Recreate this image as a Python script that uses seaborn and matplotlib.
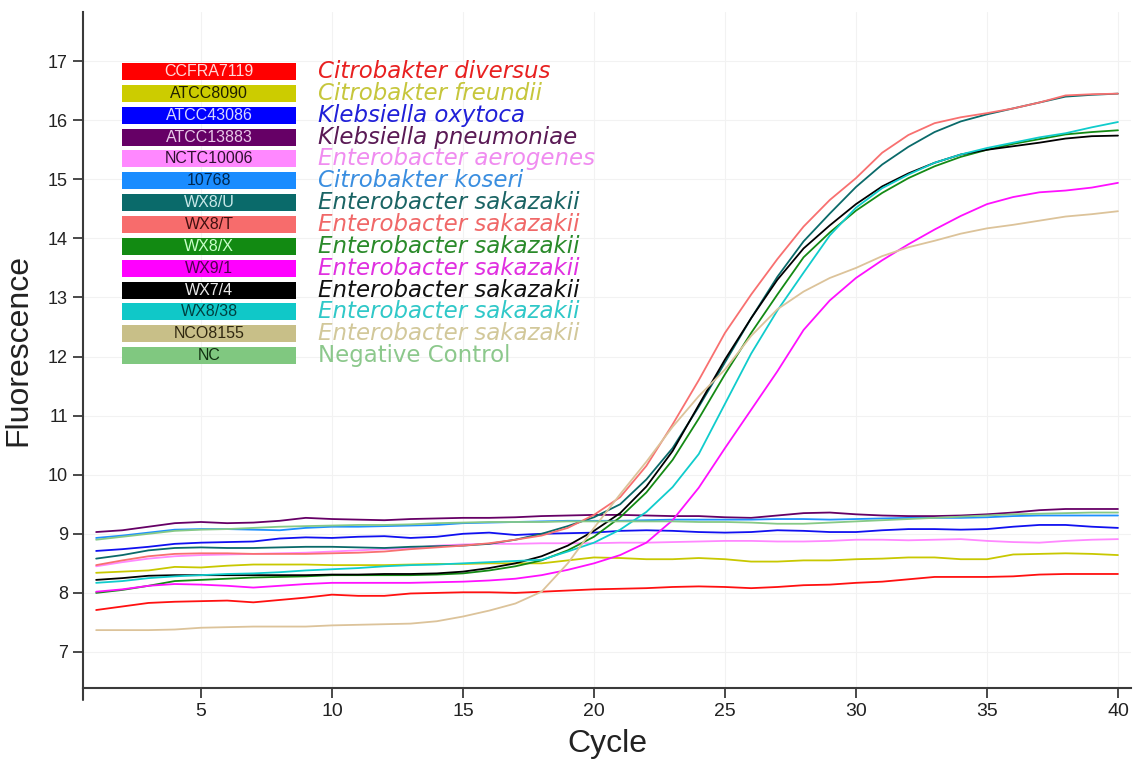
import numpy as np
import pandas as pd
import matplotlib
matplotlib.use("Agg")
import matplotlib.pyplot as plt
import seaborn as sns
from matplotlib.patches import Rectangle
from matplotlib.lines import Line2D
from matplotlib import font_manager as fm

# ---------------- data ----------------
cycles = list(range(1, 41))

codes = ["CCFRA7119", "ATCC8090", "ATCC43086", "ATCC13883", "NCTC10006", "10768",
         "WX8/U", "WX8/T", "WX8/X", "WX9/1", "WX7/4", "WX8/38", "NCO8155", "NC"]
species = ["Citrobakter diversus", "Citrobakter freundii", "Klebsiella oxytoca",
           "Klebsiella pneumoniae", "Enterobacter aerogenes", "Citrobakter koseri",
           "Enterobacter sakazakii", "Enterobacter sakazakii", "Enterobacter sakazakii",
           "Enterobacter sakazakii", "Enterobacter sakazakii", "Enterobacter sakazakii",
           "Enterobacter sakazakii", "Negative Control"]

ccfra7119 = [7.71, 7.77, 7.83, 7.85, 7.86, 7.87, 7.84, 7.88, 7.92, 7.97, 7.95, 7.95, 7.99, 8.00, 8.01, 8.01, 8.00, 8.02, 8.04, 8.06,
             8.07, 8.08, 8.10, 8.11, 8.10, 8.08, 8.10, 8.13, 8.14, 8.17, 8.19, 8.23, 8.27, 8.27, 8.27, 8.28, 8.31, 8.32, 8.32, 8.32]
atcc8090 = [8.34, 8.36, 8.38, 8.44, 8.43, 8.46, 8.48, 8.48, 8.48, 8.47, 8.47, 8.47, 8.48, 8.49, 8.49, 8.50, 8.50, 8.50, 8.55, 8.60,
            8.59, 8.57, 8.57, 8.59, 8.57, 8.53, 8.53, 8.55, 8.55, 8.57, 8.58, 8.60, 8.60, 8.57, 8.57, 8.65, 8.66, 8.67, 8.66, 8.64]
atcc43086 = [8.71, 8.74, 8.78, 8.83, 8.85, 8.86, 8.87, 8.92, 8.94, 8.93, 8.95, 8.96, 8.93, 8.95, 9.00, 9.02, 8.98, 9.00, 9.01, 9.02,
             9.05, 9.06, 9.05, 9.03, 9.02, 9.03, 9.06, 9.05, 9.03, 9.03, 9.06, 9.08, 9.08, 9.07, 9.08, 9.12, 9.15, 9.15, 9.12, 9.10]
atcc13883 = [9.03, 9.06, 9.12, 9.18, 9.20, 9.18, 9.19, 9.22, 9.27, 9.25, 9.24, 9.23, 9.25, 9.26, 9.27, 9.27, 9.28, 9.30, 9.31, 9.32,
             9.32, 9.31, 9.30, 9.30, 9.28, 9.27, 9.31, 9.35, 9.36, 9.33, 9.31, 9.30, 9.30, 9.31, 9.33, 9.36, 9.40, 9.42, 9.42, 9.42]
nctc10006 = [8.45, 8.52, 8.58, 8.62, 8.64, 8.65, 8.66, 8.67, 8.68, 8.70, 8.72, 8.74, 8.76, 8.80, 8.82, 8.83, 8.83, 8.84, 8.84, 8.84,
             8.85, 8.85, 8.86, 8.87, 8.88, 8.88, 8.87, 8.87, 8.88, 8.90, 8.90, 8.89, 8.90, 8.91, 8.88, 8.86, 8.85, 8.88, 8.90, 8.91]
s10768 = [8.93, 8.97, 9.02, 9.07, 9.08, 9.08, 9.07, 9.06, 9.10, 9.12, 9.12, 9.13, 9.14, 9.15, 9.18, 9.19, 9.20, 9.21, 9.22, 9.22,
          9.22, 9.23, 9.24, 9.24, 9.24, 9.24, 9.25, 9.25, 9.24, 9.25, 9.26, 9.27, 9.27, 9.27, 9.28, 9.30, 9.31, 9.31, 9.31, 9.31]
wx8_u = [8.58, 8.64, 8.72, 8.76, 8.77, 8.76, 8.76, 8.77, 8.78, 8.78, 8.77, 8.76, 8.78, 8.79, 8.80, 8.83, 8.90, 9.00, 9.13, 9.28,
         9.50, 9.92, 10.45, 11.15, 11.90, 12.65, 13.35, 13.95, 14.42, 14.87, 15.25, 15.55, 15.80, 15.98, 16.10, 16.20, 16.30, 16.40, 16.43, 16.45]
wx8_t = [8.47, 8.55, 8.62, 8.66, 8.67, 8.67, 8.66, 8.66, 8.66, 8.67, 8.68, 8.70, 8.74, 8.77, 8.80, 8.84, 8.90, 8.97, 9.10, 9.32,
         9.62, 10.15, 10.85, 11.60, 12.40, 13.05, 13.65, 14.20, 14.65, 15.02, 15.45, 15.75, 15.95, 16.05, 16.12, 16.20, 16.30, 16.42, 16.44, 16.45]
wx8_x = [8.00, 8.05, 8.12, 8.20, 8.22, 8.24, 8.26, 8.27, 8.28, 8.30, 8.30, 8.30, 8.30, 8.31, 8.33, 8.38, 8.45, 8.55, 8.72, 8.95,
         9.28, 9.70, 10.25, 10.95, 11.70, 12.40, 13.05, 13.68, 14.10, 14.47, 14.77, 15.02, 15.22, 15.38, 15.50, 15.60, 15.68, 15.76, 15.80, 15.83]
wx9_1 = [8.02, 8.06, 8.12, 8.15, 8.14, 8.12, 8.09, 8.12, 8.15, 8.17, 8.17, 8.17, 8.17, 8.18, 8.19, 8.21, 8.24, 8.30, 8.39, 8.50,
         8.64, 8.85, 9.23, 9.78, 10.45, 11.10, 11.75, 12.45, 12.95, 13.33, 13.63, 13.90, 14.15, 14.38, 14.58, 14.70, 14.78, 14.81, 14.86, 14.94]
wx7_4 = [8.22, 8.25, 8.29, 8.30, 8.30, 8.30, 8.30, 8.30, 8.30, 8.31, 8.31, 8.32, 8.32, 8.33, 8.36, 8.42, 8.50, 8.62, 8.80, 9.05,
         9.35, 9.80, 10.40, 11.18, 11.95, 12.65, 13.30, 13.83, 14.22, 14.58, 14.88, 15.10, 15.28, 15.42, 15.50, 15.56, 15.62, 15.69, 15.73, 15.74]
wx8_38 = [8.17, 8.20, 8.25, 8.28, 8.30, 8.32, 8.33, 8.35, 8.38, 8.40, 8.42, 8.45, 8.47, 8.48, 8.50, 8.52, 8.54, 8.56, 8.70, 8.85,
          9.07, 9.37, 9.79, 10.35, 11.20, 12.05, 12.78, 13.42, 14.05, 14.52, 14.85, 15.08, 15.28, 15.42, 15.53, 15.62, 15.71, 15.78, 15.88, 15.97]
nco8155 = [7.37, 7.37, 7.37, 7.38, 7.41, 7.42, 7.43, 7.43, 7.43, 7.45, 7.46, 7.47, 7.48, 7.52, 7.60, 7.70, 7.82, 8.02, 8.50, 9.10,
           9.67, 10.22, 10.81, 11.33, 11.78, 12.35, 12.80, 13.10, 13.33, 13.50, 13.70, 13.85, 13.96, 14.08, 14.17, 14.23, 14.30, 14.37, 14.41, 14.46]
nc = [8.90, 8.95, 9.00, 9.05, 9.07, 9.08, 9.10, 9.12, 9.13, 9.14, 9.15, 9.15, 9.16, 9.18, 9.19, 9.20, 9.20, 9.20, 9.21, 9.21,
      9.21, 9.21, 9.21, 9.20, 9.20, 9.19, 9.17, 9.17, 9.19, 9.21, 9.23, 9.25, 9.27, 9.29, 9.31, 9.33, 9.34, 9.35, 9.36, 9.36]

values = [ccfra7119, atcc8090, atcc43086, atcc13883, nctc10006, s10768, wx8_u,
          wx8_t, wx8_x, wx9_1, wx7_4, wx8_38, nco8155, nc]

# ---------------- styles ----------------
line_colors = ["#ff1010", "#c8c800", "#1010f0", "#660066", "#ff88ff", "#1e90ff", "#0a6a6a",
               "#f87070", "#148a14", "#ff10ff", "#000000", "#10cccc", "#dcc39a", "#86c986"]
box_colors = ["#ff0000", "#cccc00", "#0000ff", "#660066", "#ff88ff", "#1a8cff", "#0a6a6a",
              "#f76c6c", "#128a12", "#ff00ff", "#000000", "#10c8c8", "#c8bf88", "#80c880"]
box_text_colors = ["#ffd8d8", "#202000", "#d8d8ff", "#e8c8e8", "#301030", "#002850", "#c8e8e8",
                   "#401010", "#c8ffc8", "#500050", "#e8e8e8", "#004040", "#302810", "#103010"]
name_colors = ["#e82020", "#c6c63c", "#2020d8", "#5a1a55", "#f08cf0", "#3a8ee0", "#1a6464",
               "#f06868", "#2a8a2a", "#e030e0", "#111111", "#30c8c8", "#d2c89a", "#8cc88c"]


def has_font(name):
    try:
        fm.findfont(fm.FontProperties(family=name), fallback_to_default=False)
        return True
    except Exception:
        return False


sns.set_theme(style="ticks")
base_font = "Liberation Sans" if has_font("Liberation Sans") else "DejaVu Sans"
narrow_font = "Liberation Sans Narrow" if has_font("Liberation Sans Narrow") else base_font
plt.rcParams["font.family"] = [base_font, "DejaVu Sans"]

df = pd.DataFrame({
    "Cycle": np.tile(cycles, len(codes)),
    "Fluorescence": np.concatenate([np.asarray(v, dtype=float) for v in values]),
    "Sample": np.repeat(codes, len(cycles)),
})

fig = plt.figure(figsize=(11.33, 7.62), dpi=100)
ax = fig.add_axes([0.0733, 0.0971, 0.925, 0.887])
ax.set_facecolor("white")
ax.grid(True, color="#f2f2f2", linewidth=0.8)
ax.set_axisbelow(True)

sns.lineplot(data=df, x="Cycle", y="Fluorescence", hue="Sample", hue_order=codes,
             palette=dict(zip(codes, line_colors)), linewidth=1.3, legend=False,
             estimator=None, ax=ax)

ax.set_xlim(0.5, 40.5)
ax.set_ylim(6.39, 17.83)
ax.set_xticks(range(5, 41, 5))
ax.set_yticks(range(7, 18))
sns.despine(ax=ax)
for side in ("left", "bottom"):
    ax.spines[side].set_color("#3a3a3a")
    ax.spines[side].set_linewidth(1.5)
ax.tick_params(direction="out", length=7, width=1.3, color="#3a3a3a", labelsize=13,
               labelcolor="#222222", pad=4)
for lab in ax.get_xticklabels():
    lab.set_fontfamily(narrow_font)
    lab.set_fontsize(14)

# small overhang of left axis line below the x axis
ax.add_line(Line2D([0, 0], [-0.018, 0], transform=ax.transAxes, color="#3a3a3a",
                   linewidth=1.5, clip_on=False))

ax.set_xlabel("Cycle", fontsize=23, fontfamily=narrow_font, color="#222222", labelpad=6)
ax.set_ylabel("Fluorescence", fontsize=23, fontfamily=narrow_font, color="#222222", labelpad=10)

# ---------------- custom legend ----------------
ax_w_px, ax_h_px, ax_x0, ax_y0 = 1048.0, 676.0, 83.0, 688.0
for i, code in enumerate(codes):
    yc_px = 71.5 + i * 21.85
    yf = (ax_y0 - yc_px) / ax_h_px
    x0 = (122 - ax_x0) / ax_w_px
    w = 174 / ax_w_px
    h = 17 / ax_h_px
    ax.add_patch(Rectangle((x0, yf - h / 2), w, h, transform=ax.transAxes,
                           facecolor=box_colors[i], edgecolor="none", zorder=5))
    ax.text(x0 + w / 2, yf, code, transform=ax.transAxes, ha="center", va="center",
            fontsize=11.5, color=box_text_colors[i], fontfamily=base_font, zorder=6)
    ax.text((318 - ax_x0) / ax_w_px, yf, species[i], transform=ax.transAxes,
            ha="left", va="center", fontsize=16.5, color=name_colors[i],
            fontfamily="DejaVu Sans",
            fontstyle="normal" if code == "NC" else "italic", zorder=6)

fig.savefig("out.png", dpi=100, facecolor="white")
